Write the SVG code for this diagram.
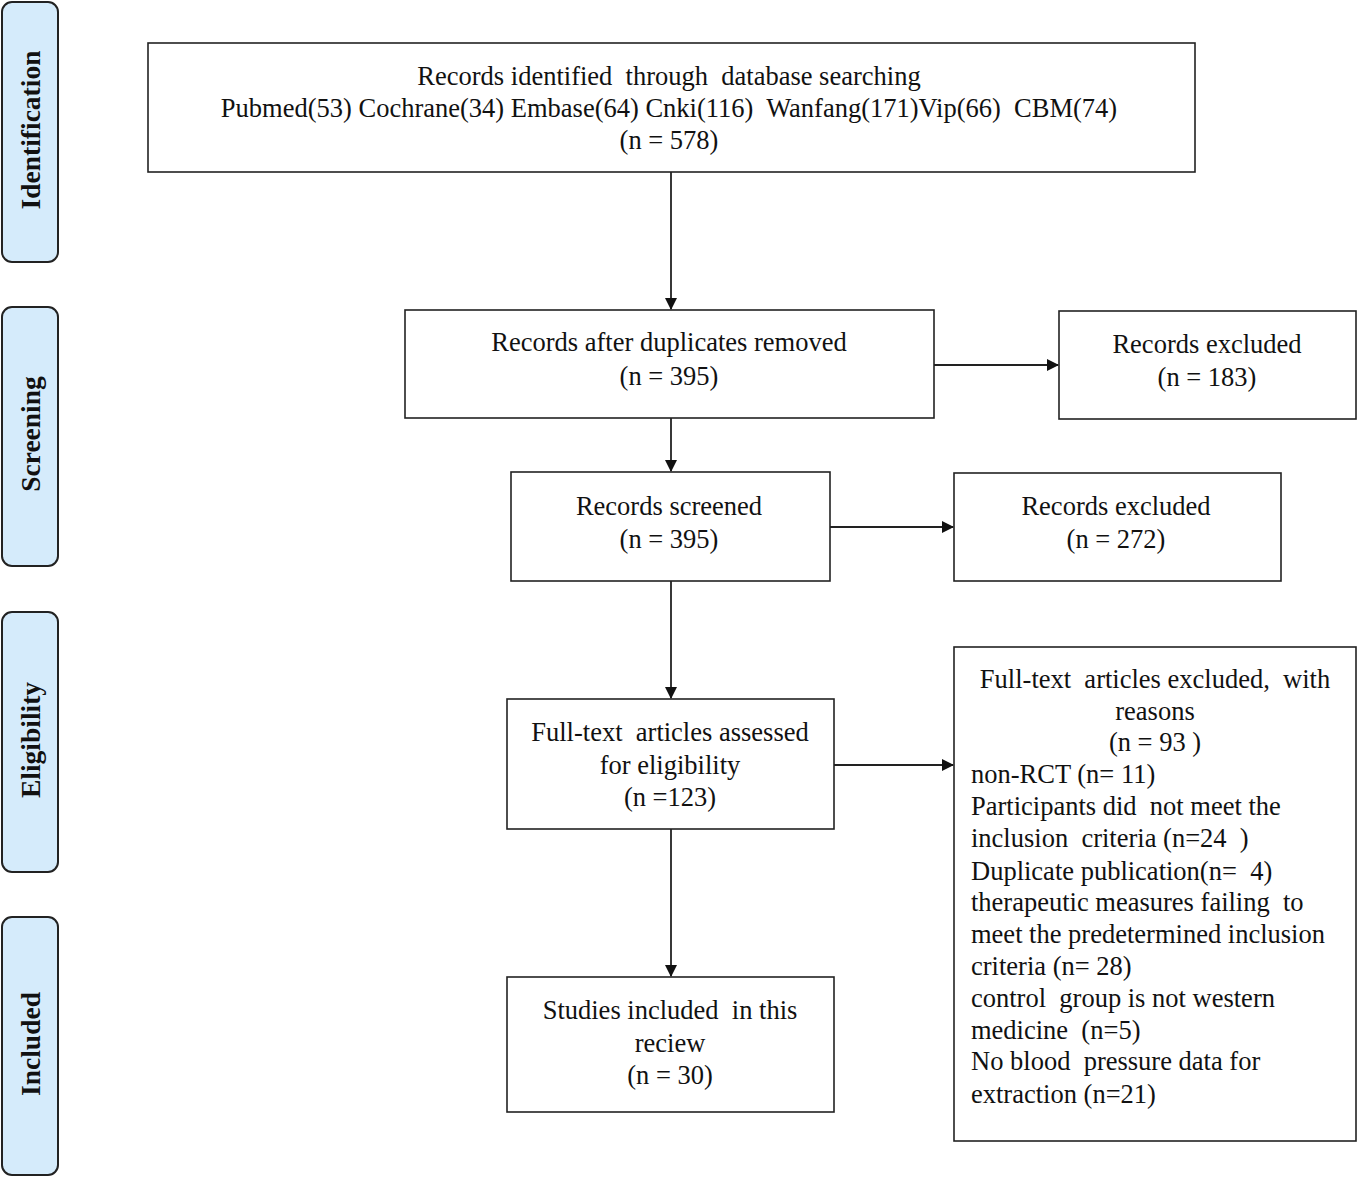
<svg xmlns="http://www.w3.org/2000/svg" width="1358" height="1178" viewBox="0 0 1358 1178">
<style>
.tab{fill:#d5ebfb;stroke:#222;stroke-width:2}
.box{fill:#fff;stroke:#222;stroke-width:1.6}
.t{font-family:"Liberation Serif","Times New Roman",serif;font-size:26.5px;fill:#111}
.c{text-anchor:middle}
.tl{font-family:"Liberation Serif","Times New Roman",serif;font-size:27.5px;font-weight:bold;fill:#111;text-anchor:middle}
.ln{stroke:#222;stroke-width:1.8;fill:none}
</style>
<defs>
<marker id="ah" markerWidth="12" markerHeight="12" refX="11" refY="6" orient="auto" markerUnits="userSpaceOnUse">
<path d="M0,0 L12,6 L0,12 Z" fill="#111"/>
</marker>
</defs>
<rect width="1358" height="1178" fill="#fff"/>
<g id="tab-identification"><rect class="tab" x="2" y="2" width="56" height="260" rx="10"/><text class="tl" transform="translate(40,130) rotate(-90)">Identification</text></g>
<g id="tab-screening"><rect class="tab" x="2" y="307" width="56" height="259" rx="10"/><text class="tl" transform="translate(40,434) rotate(-90)">Screening</text></g>
<g id="tab-eligibility"><rect class="tab" x="2" y="612" width="56" height="260" rx="10"/><text class="tl" transform="translate(40,740) rotate(-90)">Eligibility</text></g>
<g id="tab-included"><rect class="tab" x="2" y="917" width="56" height="258" rx="10"/><text class="tl" transform="translate(40,1044) rotate(-90)">Included</text></g>

<g id="identified"><rect class="box" x="148" y="43" width="1047" height="129"/>
<text class="t c" x="669" y="85" xml:space="preserve">Records identified  through  database searching</text>
<text class="t c" x="669" y="117" xml:space="preserve">Pubmed(53) Cochrane(34) Embase(64) Cnki(116)  Wanfang(171)Vip(66)  CBM(74)</text>
<text class="t c" x="669" y="149">(n = 578)</text></g>

<g id="duplicates"><rect class="box" x="405" y="310" width="529" height="108"/>
<text class="t c" x="669" y="351">Records after duplicates removed</text>
<text class="t c" x="669" y="385">(n = 395)</text></g>

<g id="excluded1"><rect class="box" x="1059" y="311" width="297" height="108"/>
<text class="t c" x="1207" y="353">Records excluded</text>
<text class="t c" x="1207" y="386">(n = 183)</text></g>

<g id="screened"><rect class="box" x="511" y="472" width="319" height="109"/>
<text class="t c" x="669" y="515">Records screened</text>
<text class="t c" x="669" y="548">(n = 395)</text></g>

<g id="excluded2"><rect class="box" x="954" y="473" width="327" height="108"/>
<text class="t c" x="1116" y="515">Records excluded</text>
<text class="t c" x="1116" y="548">(n = 272)</text></g>

<g id="fulltext"><rect class="box" x="507" y="699" width="327" height="130"/>
<text class="t c" x="670" y="741" xml:space="preserve">Full-text  articles assessed</text>
<text class="t c" x="670" y="774">for eligibility</text>
<text class="t c" x="670" y="806">(n =123)</text></g>

<g id="excluded3"><rect class="box" x="954" y="647" width="402" height="494"/>
<text class="t c" x="1155" y="688" xml:space="preserve">Full-text  articles excluded,  with</text>
<text class="t c" x="1155" y="720">reasons</text>
<text class="t c" x="1155" y="751">(n = 93 )</text>
<text class="t" x="971" y="783">non-RCT (n= 11)</text>
<text class="t" x="971" y="815" xml:space="preserve">Participants did  not meet the</text>
<text class="t" x="971" y="847" xml:space="preserve">inclusion  criteria (n=24  )</text>
<text class="t" x="971" y="880" xml:space="preserve">Duplicate publication(n=  4)</text>
<text class="t" x="971" y="911" xml:space="preserve">therapeutic measures failing  to</text>
<text class="t" x="971" y="943">meet the predetermined inclusion</text>
<text class="t" x="971" y="975">criteria (n= 28)</text>
<text class="t" x="971" y="1007" xml:space="preserve">control  group is not western</text>
<text class="t" x="971" y="1039" xml:space="preserve">medicine  (n=5)</text>
<text class="t" x="971" y="1070" xml:space="preserve">No blood  pressure data for</text>
<text class="t" x="971" y="1103">extraction (n=21)</text></g>

<g id="included"><rect class="box" x="507" y="977" width="327" height="135"/>
<text class="t c" x="670" y="1019" xml:space="preserve">Studies included  in this</text>
<text class="t c" x="670" y="1052">reciew</text>
<text class="t c" x="670" y="1084">(n = 30)</text></g>

<g id="connectors">
<line class="ln" x1="671" y1="172" x2="671" y2="309" marker-end="url(#ah)"/>
<line class="ln" x1="671" y1="418" x2="671" y2="471" marker-end="url(#ah)"/>
<line class="ln" x1="671" y1="581" x2="671" y2="698" marker-end="url(#ah)"/>
<line class="ln" x1="671" y1="829" x2="671" y2="976" marker-end="url(#ah)"/>
<line class="ln" x1="934" y1="365" x2="1058" y2="365" marker-end="url(#ah)"/>
<line class="ln" x1="830" y1="527" x2="953" y2="527" marker-end="url(#ah)"/>
<line class="ln" x1="834" y1="765" x2="953" y2="765" marker-end="url(#ah)"/>
</g>
</svg>
